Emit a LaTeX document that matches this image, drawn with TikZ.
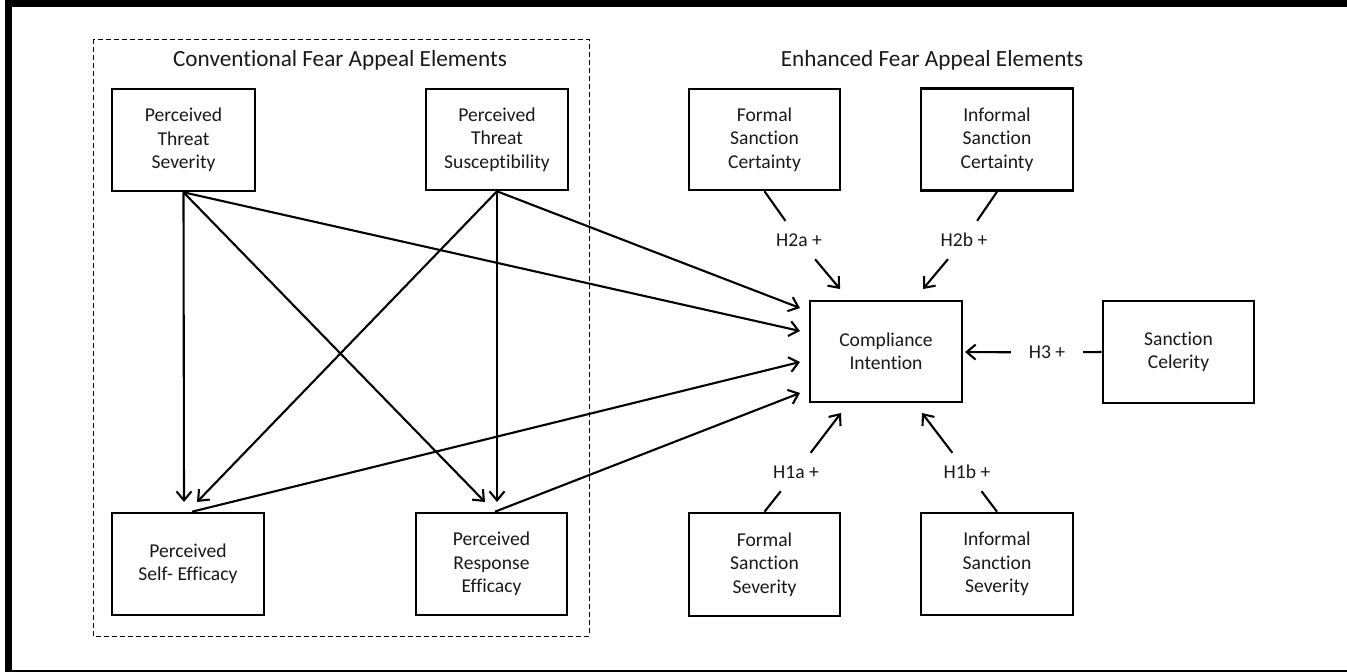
\documentclass[tikz,border=0pt]{standalone}
\usepackage{fontspec}
\setmainfont{Carlito}[Ligatures={NoCommon}]
\usetikzlibrary{arrows.meta,calc}
\begin{document}
\begin{tikzpicture}[x=1pt,y=-1pt,
  box/.style={draw, line width=2.6pt, minimum width=151pt, minimum height=102pt,
    align=center, inner sep=0pt, font=\fontsize{19.6}{23.3}\selectfont, text=black!90},
  title/.style={font=\fontsize{23.2}{27}\selectfont, text=black!90, inner sep=0pt},
  hlab/.style={font=\fontsize{19.6}{23.3}\selectfont, text=black!90, inner sep=0pt,
    minimum width=72pt, minimum height=38pt},
  arr/.style={line width=2.1pt, -{Straight Barb[length=9pt,width=15pt]}},
  conn/.style={line width=2.1pt}]
\useasboundingbox (0,0) rectangle (1347,672);
% outer frame
\fill (5,0) rectangle (1347,7);
\fill (5,0) rectangle (12,672);
\fill (5,669.5) rectangle (1347,672);
% dashed group
\draw[line width=1pt, dash pattern=on 5pt off 3pt] (93,39) rectangle (589,636);
\node[title] (t1) at (340,60) {Conventional Fear Appeal Elements};
\node[title] (t2) at (932,60) {Enhanced Fear Appeal Elements};
% boxes
\node[box, minimum width=143pt] (PTS) at (183.5,140) {Perceived\\Threat\\Severity};
\node[box, minimum width=142pt, minimum height=101pt] (PTSU) at (497,139.5) {Perceived\\Threat\\Susceptibility};
\node[box, minimum height=101pt] (FSC) at (764.5,139.5) {Formal\\Sanction\\Certainty};
\node[box, minimum width=152pt] (ISC) at (997,139.5) {Informal\\Sanction\\Certainty};
\node[box, minimum width=152pt, minimum height=101pt] (CI) at (886,351.5) {Compliance\\Intention};
\node[box] (SC) at (1178.5,352) {Sanction\\Celerity};
\node[box, minimum height=103pt] (FSS) at (764.5,564.5) {Formal\\Sanction\\Severity};
\node[box, minimum width=152pt] (ISS) at (997,564) {Informal\\Sanction\\Severity};
\node[box, minimum width=152pt] (PSE) at (188,564) {Perceived\\Self- Efficacy};
\node[box] (PRE) at (491.5,564) {Perceived\\Response\\Efficacy};
% hypothesis labels
\node[hlab] (H2a) at (799,240) {H2a +};
\node[hlab] (H2b) at (964,240) {H2b +};
\node[hlab] (H3) at (1047,352.5) {H3 +};
\node[hlab] (H1a) at (796,472) {H1a +};
\node[hlab] (H1b) at (967,472) {H1b +};
% arrow tip coordinates
\coordinate (tPSE1) at (184,502);
\coordinate (tPSE2) at (197,502);
\coordinate (tPRE1) at (485,502);
\coordinate (tPRE2) at (497,502);
\coordinate (tCI1) at (800,308);
\coordinate (tCI2) at (800,331);
\coordinate (tCI3) at (800,362);
\coordinate (tCI4) at (800,393);
\coordinate (tCI5) at (840,289);
\coordinate (tCI6) at (923,289);
\coordinate (tCI7) at (841,413);
\coordinate (tCI8) at (922,413);
\coordinate (tCI9) at (965,352);
% conventional paths
\draw[arr] (PTS.south) -- (tPSE1);
\draw[arr] (PTS.south) -- (tPRE1);
\draw[arr] (PTS.south) -- (tCI2);
\draw[arr] (PTSU.south) -- (tPSE2);
\draw[arr] (PTSU.south) -- (tPRE2);
\draw[arr] (PTSU.south) -- (tCI1);
\draw[arr] ($(PSE.north)+(4,0)$) -- (tCI3);
\draw[arr] ($(PRE.north)+(3.5,0)$) -- (tCI4);
% enhanced paths
\draw[conn] (FSC.south) -- (H2a);
\draw[arr] (H2a) -- (tCI5);
\draw[conn] (ISC.south) -- (H2b);
\draw[arr] (H2b) -- (tCI6);
\draw[conn] (FSS.north) -- (H1a);
\draw[arr] (H1a) -- (tCI7);
\draw[conn] (ISS.north) -- (H1b);
\draw[arr] (H1b) -- (tCI8);
\draw[conn] (SC.west) -- (H3);
\draw[arr] (H3) -- (tCI9);
\end{tikzpicture}
\end{document}
